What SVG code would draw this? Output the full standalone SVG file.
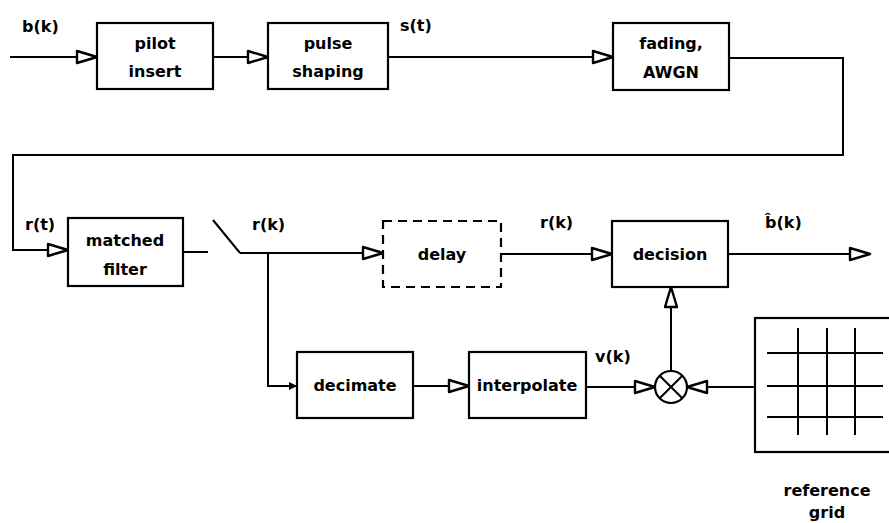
<svg xmlns="http://www.w3.org/2000/svg" width="889" height="523" viewBox="0 0 889 523">
<defs>
<style>
.box{fill:#fff;stroke:#000;stroke-width:2.2}
.dash{fill:#fff;stroke:#000;stroke-width:2.2;stroke-dasharray:9,6}
.ln{fill:none;stroke:#000;stroke-width:2}
.arr{fill:none;stroke:#000;stroke-width:2;marker-end:url(#tri)}
.t{font-family:"DejaVu Sans",sans-serif;font-weight:bold;font-size:16px;fill:#000;text-anchor:middle}
.lbl{font-family:"DejaVu Sans",sans-serif;font-weight:bold;font-size:16px;fill:#000}
</style>
<marker id="tri" viewBox="0 0 24 16" refX="22" refY="8" markerWidth="24" markerHeight="16" markerUnits="userSpaceOnUse" orient="auto">
<path d="M2,2 L22,8 L2,14 Z" fill="#fff" stroke="#000" stroke-width="2.4" stroke-linejoin="round"/>
</marker>
<marker id="dot" viewBox="0 0 10 10" refX="9" refY="5" markerWidth="10" markerHeight="10" markerUnits="userSpaceOnUse" orient="auto">
<path d="M1,1 L9,5 L1,9 Z" fill="#000"/>
</marker>
</defs>
<rect width="889" height="523" fill="#fff"/>
<g id="connectors">
<path class="arr" d="M10,57 H97"/>
<path class="arr" d="M213,57 H268"/>
<path class="arr" d="M388,57 H613"/>
<path class="arr" d="M729,58 H843 V155 H13 V250 H68"/>
<path class="ln" d="M183,252 H208"/>
<path class="ln" d="M213,220 L240,253"/>
<path class="arr" d="M240,253 H383"/>
<path class="ln" d="M268,253 V386 H297" style="marker-end:url(#dot)"/>
<path class="arr" d="M501,254 H612"/>
<path class="arr" d="M728,254 H870"/>
<path class="arr" d="M413,386 H469"/>
<path class="arr" d="M586,387 H655"/>
<path class="arr" d="M755,387 H687"/>
<path class="arr" d="M671,371 V287"/>
</g>
<g id="pilot_insert">
<rect class="box" x="97" y="23" width="116" height="66"/>
<text class="t" x="155" y="49">pilot</text>
<text class="t" x="155" y="77">insert</text>
</g>
<g id="pulse_shaping">
<rect class="box" x="268" y="23" width="120" height="66"/>
<text class="t" x="328" y="49">pulse</text>
<text class="t" x="328" y="77">shaping</text>
</g>
<g id="fading_awgn">
<rect class="box" x="613" y="23" width="116" height="67"/>
<text class="t" x="671" y="49">fading,</text>
<text class="t" x="671" y="78">AWGN</text>
</g>
<g id="matched_filter">
<rect class="box" x="68" y="218" width="115" height="68"/>
<text class="t" x="125" y="246">matched</text>
<text class="t" x="125" y="275">filter</text>
</g>
<g id="delay">
<rect class="dash" x="383" y="221" width="118" height="66"/>
<text class="t" x="442" y="260">delay</text>
</g>
<g id="decision">
<rect class="box" x="612" y="221" width="116" height="66"/>
<text class="t" x="670" y="260">decision</text>
</g>
<g id="decimate">
<rect class="box" x="297" y="352" width="116" height="66"/>
<text class="t" x="355" y="391">decimate</text>
</g>
<g id="interpolate">
<rect class="box" x="469" y="352" width="117" height="66"/>
<text class="t" x="527" y="391">interpolate</text>
</g>
<g id="multiplier">
<circle cx="671" cy="387" r="16" fill="#fff" stroke="#000" stroke-width="2.2"/>
<path class="ln" d="M659.7,375.7 L682.3,398.3 M682.3,375.7 L659.7,398.3"/>
</g>
<g id="reference_grid">
<rect class="box" x="755" y="318" width="140" height="134"/>
<path class="ln" d="M767,353 H883 M767,386 H883 M767,417 H883 M798,328 V435 M827,328 V435 M855,328 V435" stroke-width="2.4"/>
<text class="t" x="827" y="496">reference</text>
<text class="t" x="827" y="518">grid</text>
</g>
<g id="labels">
<text class="lbl" x="22" y="32">b(k)</text>
<text class="lbl" x="400" y="31">s(t)</text>
<text class="lbl" x="25" y="230">r(t)</text>
<text class="lbl" x="252" y="230">r(k)</text>
<text class="lbl" x="540" y="228">r(k)</text>
<text class="lbl" x="765" y="228">b̂(k)</text>
<text class="lbl" x="595" y="362">v(k)</text>
</g>
</svg>
